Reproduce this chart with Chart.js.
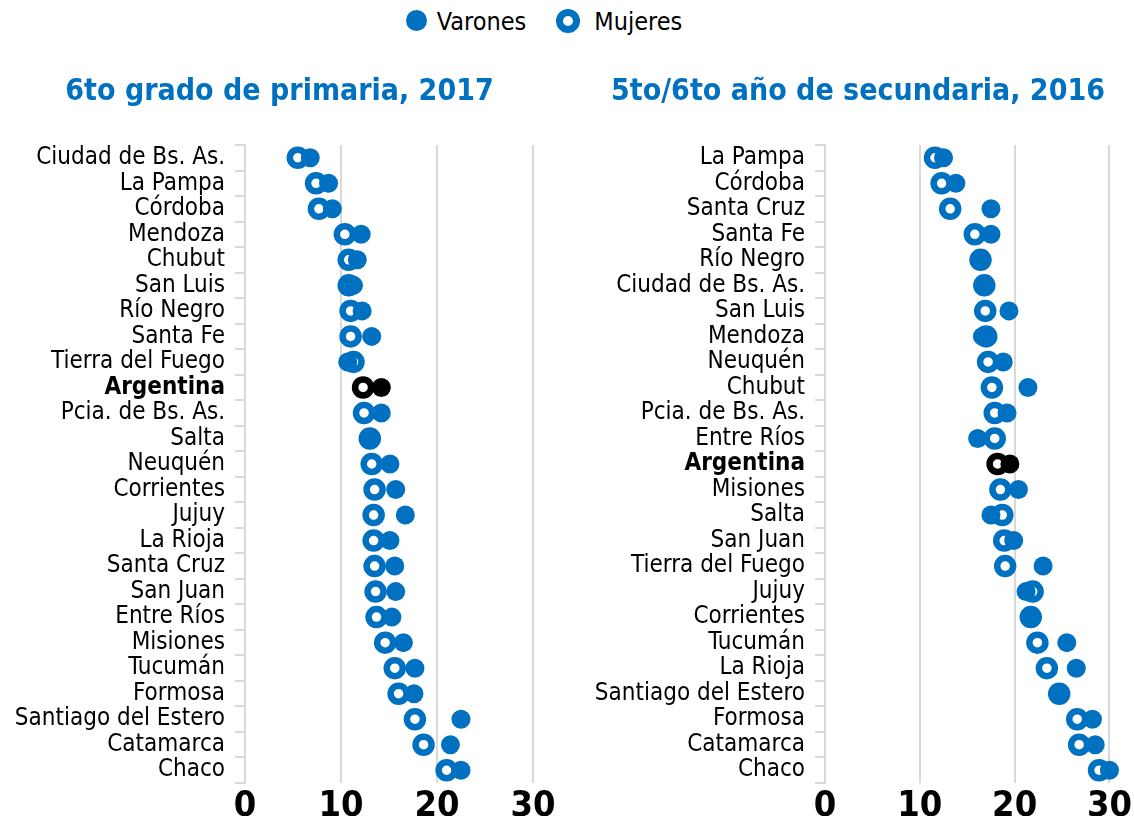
<!DOCTYPE html>
<html>
<head>
<meta charset="utf-8">
<script src="https://cdn.jsdelivr.net/npm/chart.js@4.4.1/dist/chart.umd.min.js"></script>
<style>
  body{margin:0;background:#fff;}
  #wrap{position:relative;width:1134px;height:816px;overflow:hidden;}
  #legend{position:absolute;top:5px;left:0;width:1088px;text-align:center;font-family:"DejaVu Sans Condensed",sans-serif;font-size:25px;color:#000;}
  #legend span.item{display:inline-block;margin:0 15px;vertical-align:middle;}
  .dot{display:inline-block;width:21px;height:21px;border-radius:50%;background:#0070C0;vertical-align:middle;margin-right:10px;position:relative;top:-2px;box-sizing:border-box;}
  .dot.hollow{width:24px;height:24px;background:#fff;border:7px solid #0070C0;margin-right:14px;}
  .box{position:absolute;top:50px;height:766px;}
  #left{left:0;width:567px;}
  #right{left:567px;width:567px;}
</style>
</head>
<body>
<div id="wrap">
  <div id="legend"><span class="item"><span class="dot"></span>Varones</span><span class="item"><span class="dot hollow"></span>Mujeres</span></div>
  <div class="box" id="left"><canvas id="chartLeft"></canvas></div>
  <div class="box" id="right"><canvas id="chartRight"></canvas></div>
</div>
<script>
const BLUE='#0070C0';
const FONT='"DejaVu Sans Condensed",sans-serif';

// 6to grado de primaria, 2017
const primCategories=["Ciudad de Bs. As.","La Pampa","Córdoba","Mendoza","Chubut","San Luis","Río Negro","Santa Fe","Tierra del Fuego","Argentina","Pcia. de Bs. As.","Salta","Neuquén","Corrientes","Jujuy","La Rioja","Santa Cruz","San Juan","Entre Ríos","Misiones","Tucumán","Formosa","Santiago del Estero","Catamarca","Chaco"];
const primVarones=[6.8,8.7,9.1,12.1,11.7,11.3,12.2,13.2,10.7,14.2,14.2,13.1,15.1,15.7,16.7,15.1,15.6,15.7,15.3,16.5,17.7,17.6,22.5,21.4,22.5];
const primMujeres=[5.5,7.4,7.7,10.4,10.8,10.8,11.0,11.0,11.3,12.3,12.4,13.0,13.2,13.5,13.4,13.4,13.5,13.6,13.7,14.6,15.6,16.0,17.7,18.6,21.0];

// 5to/6to año de secundaria, 2016
const secCategories=["La Pampa","Córdoba","Santa Cruz","Santa Fe","Río Negro","Ciudad de Bs. As.","San Luis","Mendoza","Neuquén","Chubut","Pcia. de Bs. As.","Entre Ríos","Argentina","Misiones","Salta","San Juan","Tierra del Fuego","Jujuy","Corrientes","Tucumán","La Rioja","Santiago del Estero","Formosa","Catamarca","Chaco"];
const secVarones=[12.5,13.8,17.5,17.5,16.5,16.9,19.4,16.6,18.8,21.4,19.2,16.1,19.5,20.4,17.5,19.9,23.0,21.2,21.8,25.5,26.5,24.8,28.2,28.5,30.0];
const secMujeres=[11.6,12.3,13.2,15.8,16.4,16.8,16.9,17.0,17.2,17.6,17.9,17.9,18.2,18.5,18.7,18.9,19.0,21.9,21.7,22.4,23.4,24.7,26.6,26.8,28.9];

const xTicks=[0,10,20,30];

// nudge the title sideways so it sits where the original one does
const titleShift={
  id:'titleShift',
  afterLayout(chart,args,opts){
    if(chart.titleBlock && opts.dx){
      chart.titleBlock.left+=opts.dx;
      chart.titleBlock.right+=opts.dx;
    }
  }
};

function makeChart(id,title,labels,varones,mujeres,axisWidth,padRight,dx){
  const colorOf=(idx)=>labels[idx]==='Argentina' ? '#000' : BLUE;
  const ctx=document.getElementById(id);
  return new Chart(ctx,{
    type:'line',
    data:{
      labels:labels,
      datasets:[{
        label:'Varones',
        data:varones,
        showLine:false,
        clip:false,
        order:1,
        pointRadius:9.5,
        pointBorderWidth:0,
        pointBackgroundColor:labels.map((l,i)=>colorOf(i)),
        pointBorderColor:labels.map((l,i)=>colorOf(i))
      },{
        label:'Mujeres',
        data:mujeres,
        showLine:false,
        clip:false,
        order:2,
        pointRadius:8,
        pointBorderWidth:6.5,
        pointBackgroundColor:'#fff',
        pointBorderColor:labels.map((l,i)=>colorOf(i))
      }]
    },
    plugins:[titleShift],
    options:{
      indexAxis:'y',
      responsive:true,
      maintainAspectRatio:false,
      animation:false,
      events:[],
      layout:{padding:{top:0,right:padRight,bottom:0,left:0}},
      plugins:{
        legend:{display:false},
        tooltip:{enabled:false},
        titleShift:{dx:dx},
        title:{
          display:true,
          text:title,
          color:BLUE,
          font:{family:FONT,size:30,weight:'bold'},
          padding:{top:24,bottom:35}
        }
      },
      scales:{
        x:{
          type:'linear',
          min:0,max:30,
          afterBuildTicks:(s)=>{s.ticks=xTicks.map(v=>({value:v}));},
          afterFit:(s)=>{s.height=33;},
          grid:{color:'#d9d9d9',lineWidth:2,drawTicks:false},
          border:{display:false},
          ticks:{color:'#000',padding:2,font:{family:FONT,size:36,weight:'bold'}}
        },
        y:{
          type:'category',
          offset:true,
          afterFit:(s)=>{s.width=axisWidth;},
          grid:{offset:true,drawOnChartArea:false,drawTicks:true,tickLength:10,color:'#d9d9d9',lineWidth:2},
          border:{display:true,color:'#d9d9d9',width:2},
          ticks:{
            autoSkip:false,
            padding:10,
            color:'#000',
            font:(c)=>({family:FONT,size:24,weight:labels[c.index]==='Argentina' ? 'bold' : 'normal'})
          }
        }
      }
    }
  });
}

makeChart('chartLeft','6to grado de primaria, 2017',primCategories,primVarones,primMujeres,245,34,13);
makeChart('chartRight','5to/6to año de secundaria, 2016',secCategories,secVarones,secMujeres,258,21,18);
</script>
</body>
</html>
